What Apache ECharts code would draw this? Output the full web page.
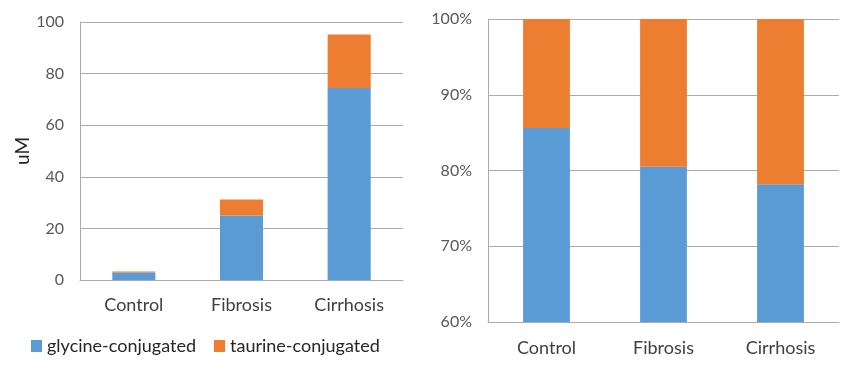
<!DOCTYPE html>
<html>
<head>
<meta charset="utf-8">
<script src="https://cdn.jsdelivr.net/npm/echarts@6/dist/echarts.min.js"></script>
<style>html,body{margin:0;padding:0;background:#fff}#c{width:866px;height:366px}</style>
</head>
<body>
<div id="c"></div>
<script>
var categories = ['Control', 'Fibrosis', 'Cirrhosis'];
var glycineUM = [2.9, 25.0, 74.4];
var taurineUM = [0.4, 6.2, 20.8];
var glycinePct = [85.6, 80.5, 78.2];
var taurinePct = [14.4, 19.5, 21.8];
var leftTicks = {min: 0, max: 100, interval: 20};
var rightTicks = {min: 60, max: 100, interval: 10};

var FONT = 'Lato';
var BLUE = '#5B9BD5', ORANGE = '#ED7D31', GRID = '#ababab';
var chart = echarts.init(document.getElementById('c'), null, {renderer: 'canvas'});
function xAx(i){
  return {type:'category', gridIndex:i, data:categories,
    axisLine:{show:true, lineStyle:{color:GRID, width:1}}, axisTick:{show:false},
    axisLabel:{color:'#404040', fontSize:18, fontFamily:FONT, margin: i===0?16:17}};
}
function yAx(i, t, fmt){
  return {type:'value', gridIndex:i, min:t.min, max:t.max, interval:t.interval,
    axisLine:{show:true, lineStyle:{color:GRID, width:1}}, axisTick:{show:false},
    splitLine:{show:true, lineStyle:{color:GRID, width:1}},
    axisLabel:{color:'#595959', fontSize:16, fontFamily:FONT, margin:16, formatter:fmt}};
}
var yl = yAx(0, leftTicks, '{value}');
yl.name = 'uM'; yl.nameLocation = 'middle'; yl.nameGap = 47;
yl.nameTextStyle = {color:'#262626', fontSize:19, fontFamily:FONT};
chart.setOption({
  animation:false,
  legend:{left:26, top:332, itemWidth:11, itemHeight:12, itemGap:18, icon:'rect',
    textStyle:{color:'#262626', fontSize:18, fontFamily:FONT},
    data:['glycine-conjugated','taurine-conjugated']},
  grid:[{left:80, right:463, top:22, bottom:86},
        {left:488, right:27, top:19, bottom:44}],
  xAxis:[xAx(0), xAx(1)],
  yAxis:[yl, yAx(1, rightTicks, '{value}%')],
  series:[
    {name:'glycine-conjugated', type:'bar', stack:'a', xAxisIndex:0, yAxisIndex:0, barWidth:'40%', data:glycineUM, itemStyle:{color:BLUE}},
    {name:'taurine-conjugated', type:'bar', stack:'a', xAxisIndex:0, yAxisIndex:0, barWidth:'40%', data:taurineUM, itemStyle:{color:ORANGE}},
    {name:'glycine-conjugated', type:'bar', stack:'b', xAxisIndex:1, yAxisIndex:1, barWidth:'40%', data:glycinePct, itemStyle:{color:BLUE}},
    {name:'taurine-conjugated', type:'bar', stack:'b', xAxisIndex:1, yAxisIndex:1, barWidth:'40%', data:taurinePct, itemStyle:{color:ORANGE}}
  ]
});
</script>
</body>
</html>
